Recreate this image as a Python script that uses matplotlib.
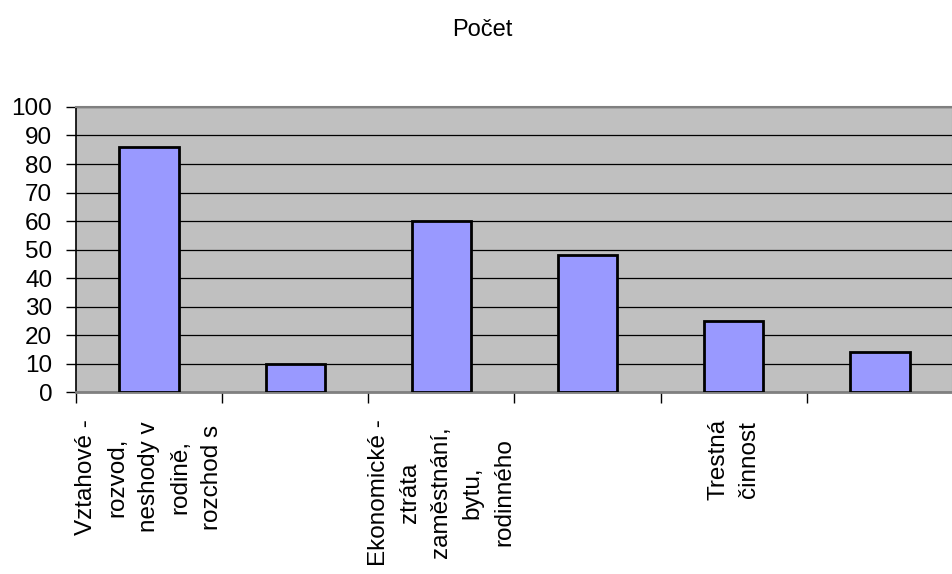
import numpy as np
import matplotlib.pyplot as plt
from matplotlib import transforms

plt.rcParams['font.family'] = ['Liberation Sans', 'DejaVu Sans']

# --- data ---
kategorie = [
    "Vztahové -\nrozvod,\nneshody v\nrodině,\nrozchod s",
    "",
    "Ekonomické -\nztráta\nzaměstnání,\nbytu,\nrodinného",
    "",
    "Trestná\nčinnost",
    "",
]
pocet = [86, 10, 60, 48, 25, 14]
y_ticks = list(range(0, 101, 10))

x = np.arange(len(pocet))

fig = plt.figure(figsize=(9.53, 5.74), dpi=100)
ax = fig.add_axes([0.0797, 0.317, 1 - 0.0797, 0.4966])
ax.set_facecolor('#C0C0C0')

ax.bar(x, pocet, width=0.405, color='#9999FF', edgecolor='black', linewidth=2, zorder=3)

ax.set_ylim(0, 100)
ax.set_xlim(-0.5, -0.5 + (953 - 76) / 148)
ax.set_yticks(y_ticks)
ax.set_yticklabels([str(v) for v in y_ticks], fontsize=17.5)
ax.yaxis.grid(True, color='black', linewidth=0.9, zorder=1)
ax.set_axisbelow(True)

# ticks on category boundaries, labels drawn separately
ax.set_xticks(np.arange(-0.5, len(pocet) + 0.5, 1))
ax.set_xticklabels([])
ax.tick_params(axis='x', direction='out', length=8, width=1, color='black')
ax.tick_params(axis='y', direction='out', length=7, width=1, color='black', pad=10)

trans = transforms.blended_transform_factory(ax.transData, ax.transAxes)
for i, lab in enumerate(kategorie):
    if lab:
        ax.text(i, -0.095, lab, transform=trans, rotation=90, ha='center', va='top',
                multialignment='center', fontsize=17.5, linespacing=1.55)

for side in ['top', 'right']:
    ax.spines[side].set_color('#808080')
    ax.spines[side].set_linewidth(1.5)
ax.spines['bottom'].set_color('#808080')
ax.spines['bottom'].set_linewidth(2)
ax.spines['left'].set_color('black')
ax.spines['left'].set_linewidth(1.2)

fig.text(0.506, 0.947, "Počet", ha='center', va='center', fontsize=17)

fig.savefig("out.png", dpi=100)
